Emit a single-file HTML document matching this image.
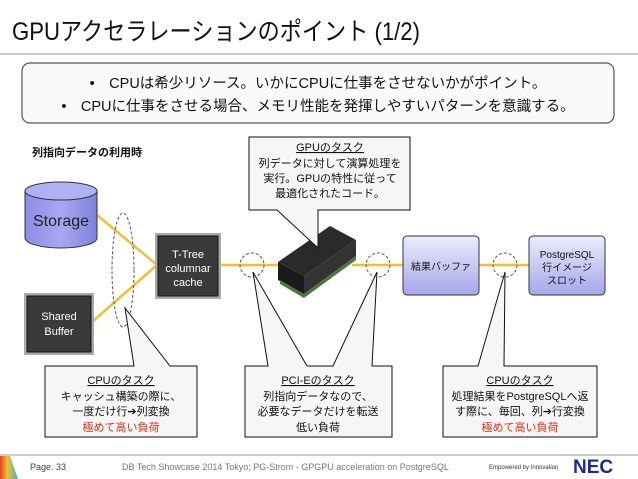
<!DOCTYPE html>
<html><head><meta charset="utf-8"><style>
body{margin:0;background:#fff;}
svg{display:block;font-family:"Liberation Sans","Noto Sans CJK JP",sans-serif;}
</style></head><body>
<svg width="638" height="479" viewBox="0 0 638 479" xmlns="http://www.w3.org/2000/svg">
<defs>
<linearGradient id="cyl" x1="0" y1="0" x2="1" y2="0"><stop offset="0" stop-color="#8c8ce6"/><stop offset="0.5" stop-color="#a8a8f2"/><stop offset="1" stop-color="#8080dc"/></linearGradient>
<linearGradient id="box" x1="0" y1="0" x2="0" y2="1"><stop offset="0" stop-color="#ececfc"/><stop offset="1" stop-color="#a6a6ea"/></linearGradient>
<linearGradient id="foot" x1="0" y1="0" x2="1" y2="0"><stop offset="0" stop-color="#e04020"/><stop offset="0.4" stop-color="#f0c030"/><stop offset="1" stop-color="#40b0c0"/></linearGradient>
</defs>
<text x="12" y="40" font-size="25" fill="#111" textLength="408" lengthAdjust="spacingAndGlyphs">GPUアクセラレーションのポイント (1/2)</text>
<line x1="0" y1="54" x2="638" y2="54" stroke="#bbb" stroke-width="1.5"/>
<rect x="22" y="63" width="592" height="60" rx="8" fill="#fafafa" stroke="#555" stroke-width="1.2"/>
<text x="318" y="88" font-size="14.5" text-anchor="middle" fill="#111">•　CPUは希少リソース。いかにCPUに仕事をさせないかがポイント。</text>
<text x="318" y="111" font-size="14.5" text-anchor="middle" fill="#111">•　CPUに仕事をさせる場合、メモリ性能を発揮しやすいパターンを意識する。</text>
<text x="32" y="156" font-size="11" font-weight="bold" fill="#111">列指向データの利用時</text>

<g stroke="#f0c030" stroke-width="2.5" fill="none">
<line x1="97" y1="215" x2="157" y2="265"/>
<line x1="92" y1="322" x2="157" y2="265"/>
<line x1="220" y1="265" x2="278" y2="265"/>
<line x1="352" y1="265" x2="404" y2="265"/>
<line x1="478" y1="265" x2="530" y2="265"/>
</g>
<g stroke="#555" stroke-width="1" stroke-dasharray="3,2" fill="none">
<ellipse cx="123" cy="270" rx="11" ry="57"/>
<circle cx="252" cy="265" r="12"/>
<circle cx="378" cy="265" r="12"/>
<circle cx="505" cy="265" r="12"/>
</g>

<path d="M25 191 L25 238 A36 10 0 0 0 97 238 L97 191" fill="url(#cyl)" stroke="#333"/>
<ellipse cx="61" cy="191" rx="36" ry="9" fill="#b0b0f4" stroke="#333"/>
<text x="61" y="226" font-size="16" text-anchor="middle" fill="#222">Storage</text>

<rect x="155" y="233" width="66" height="66" fill="#aaa"/>
<rect x="158" y="236" width="60" height="60" fill="#3a3a3a" stroke="#111"/>
<text x="188" y="258" font-size="11" fill="#fff" text-anchor="middle">T-Tree</text>
<text x="188" y="272" font-size="11" fill="#fff" text-anchor="middle">columnar</text>
<text x="188" y="286" font-size="11" fill="#fff" text-anchor="middle">cache</text>
<rect x="24" y="293" width="70" height="62" fill="#aaa"/>
<rect x="27" y="296" width="64" height="56" fill="#3a3a3a" stroke="#111"/>
<text x="59" y="320" font-size="11" fill="#fff" text-anchor="middle">Shared</text>
<text x="59" y="335" font-size="11" fill="#fff" text-anchor="middle">Buffer</text>

<polygon points="278,262 330,226 356,240 304,276" fill="#2a2a2a"/>
<polygon points="278,262 304,276 304,294 278,280" fill="#1a1a1a"/>
<polygon points="304,276 356,240 356,256 304,294" fill="#333"/>
<polygon points="280,280 304,294 304,298 280,284" fill="#4a7a3a"/>
<polygon points="304,294 356,256 356,260 304,298" fill="#4a7a3a"/>

<rect x="403" y="236" width="76" height="59" rx="4" fill="url(#box)" stroke="#334"/>
<text x="441" y="270" font-size="10" text-anchor="middle" fill="#111">結果バッファ</text>
<rect x="529" y="236" width="76" height="59" rx="4" fill="url(#box)" stroke="#334"/>
<text x="567" y="258" font-size="10" text-anchor="middle" fill="#111">PostgreSQL</text>
<text x="567" y="271" font-size="10" text-anchor="middle" fill="#111">行イメージ</text>
<text x="567" y="284" font-size="10" text-anchor="middle" fill="#111">スロット</text>

<g fill="#f6f6f6" stroke="#111" stroke-width="1">
<path d="M249 137 L410 137 L410 210 L318 210 L318 248 L277 210 L249 210 Z"/>
<path d="M45 366 L134 366 L125 308 L170 366 L197 366 L197 437 L45 437 Z"/>
<path d="M245 366 L268 366 L253 272 L307 366 L333 366 L377 272 L372 366 L392 366 L392 437 L245 437 Z"/>
<path d="M443 366 L478 366 L505 272 L504 366 L597 366 L597 437 L443 437 Z"/>
</g>
<g font-size="11" text-anchor="middle" fill="#111">
<text x="330" y="151" text-decoration="underline">GPUのタスク</text>
<text x="330" y="167">列データに対して演算処理を</text>
<text x="330" y="182">実行。GPUの特性に従って</text>
<text x="330" y="197">最適化されたコード。</text>
<text x="121" y="384" text-decoration="underline">CPUのタスク</text>
<text x="121" y="400">キャッシュ構築の際に、</text>
<text x="121" y="415">一度だけ行➔列変換</text>
<text x="121" y="431" fill="#e03010">極めて高い負荷</text>
<text x="318" y="384" text-decoration="underline">PCI-Eのタスク</text>
<text x="318" y="400">列指向データなので、</text>
<text x="318" y="415">必要なデータだけを転送</text>
<text x="318" y="431">低い負荷</text>
<text x="520" y="384" text-decoration="underline">CPUのタスク</text>
<text x="520" y="400">処理結果をPostgreSQLへ返</text>
<text x="520" y="415">す際に、毎回、列➔行変換</text>
<text x="520" y="431" fill="#e03010">極めて高い負荷</text>
</g>

<line x1="0" y1="455" x2="638" y2="455" stroke="#ccc" stroke-width="2"/>
<polygon points="0,456 10,456 18,479 0,479" fill="url(#foot)"/>
<text x="30" y="470" font-size="9" fill="#444">Page. 33</text>
<text x="122" y="470" font-size="9" fill="#777">DB Tech Showcase 2014 Tokyo; PG-Strom - GPGPU acceleration on PostgreSQL</text>
<text x="489" y="469" font-size="6" fill="#333">Empowered by Innovation</text>
<text x="573" y="473" font-size="19" font-weight="bold" fill="#1a2a9a">NEC</text>
</svg>
</body></html>
